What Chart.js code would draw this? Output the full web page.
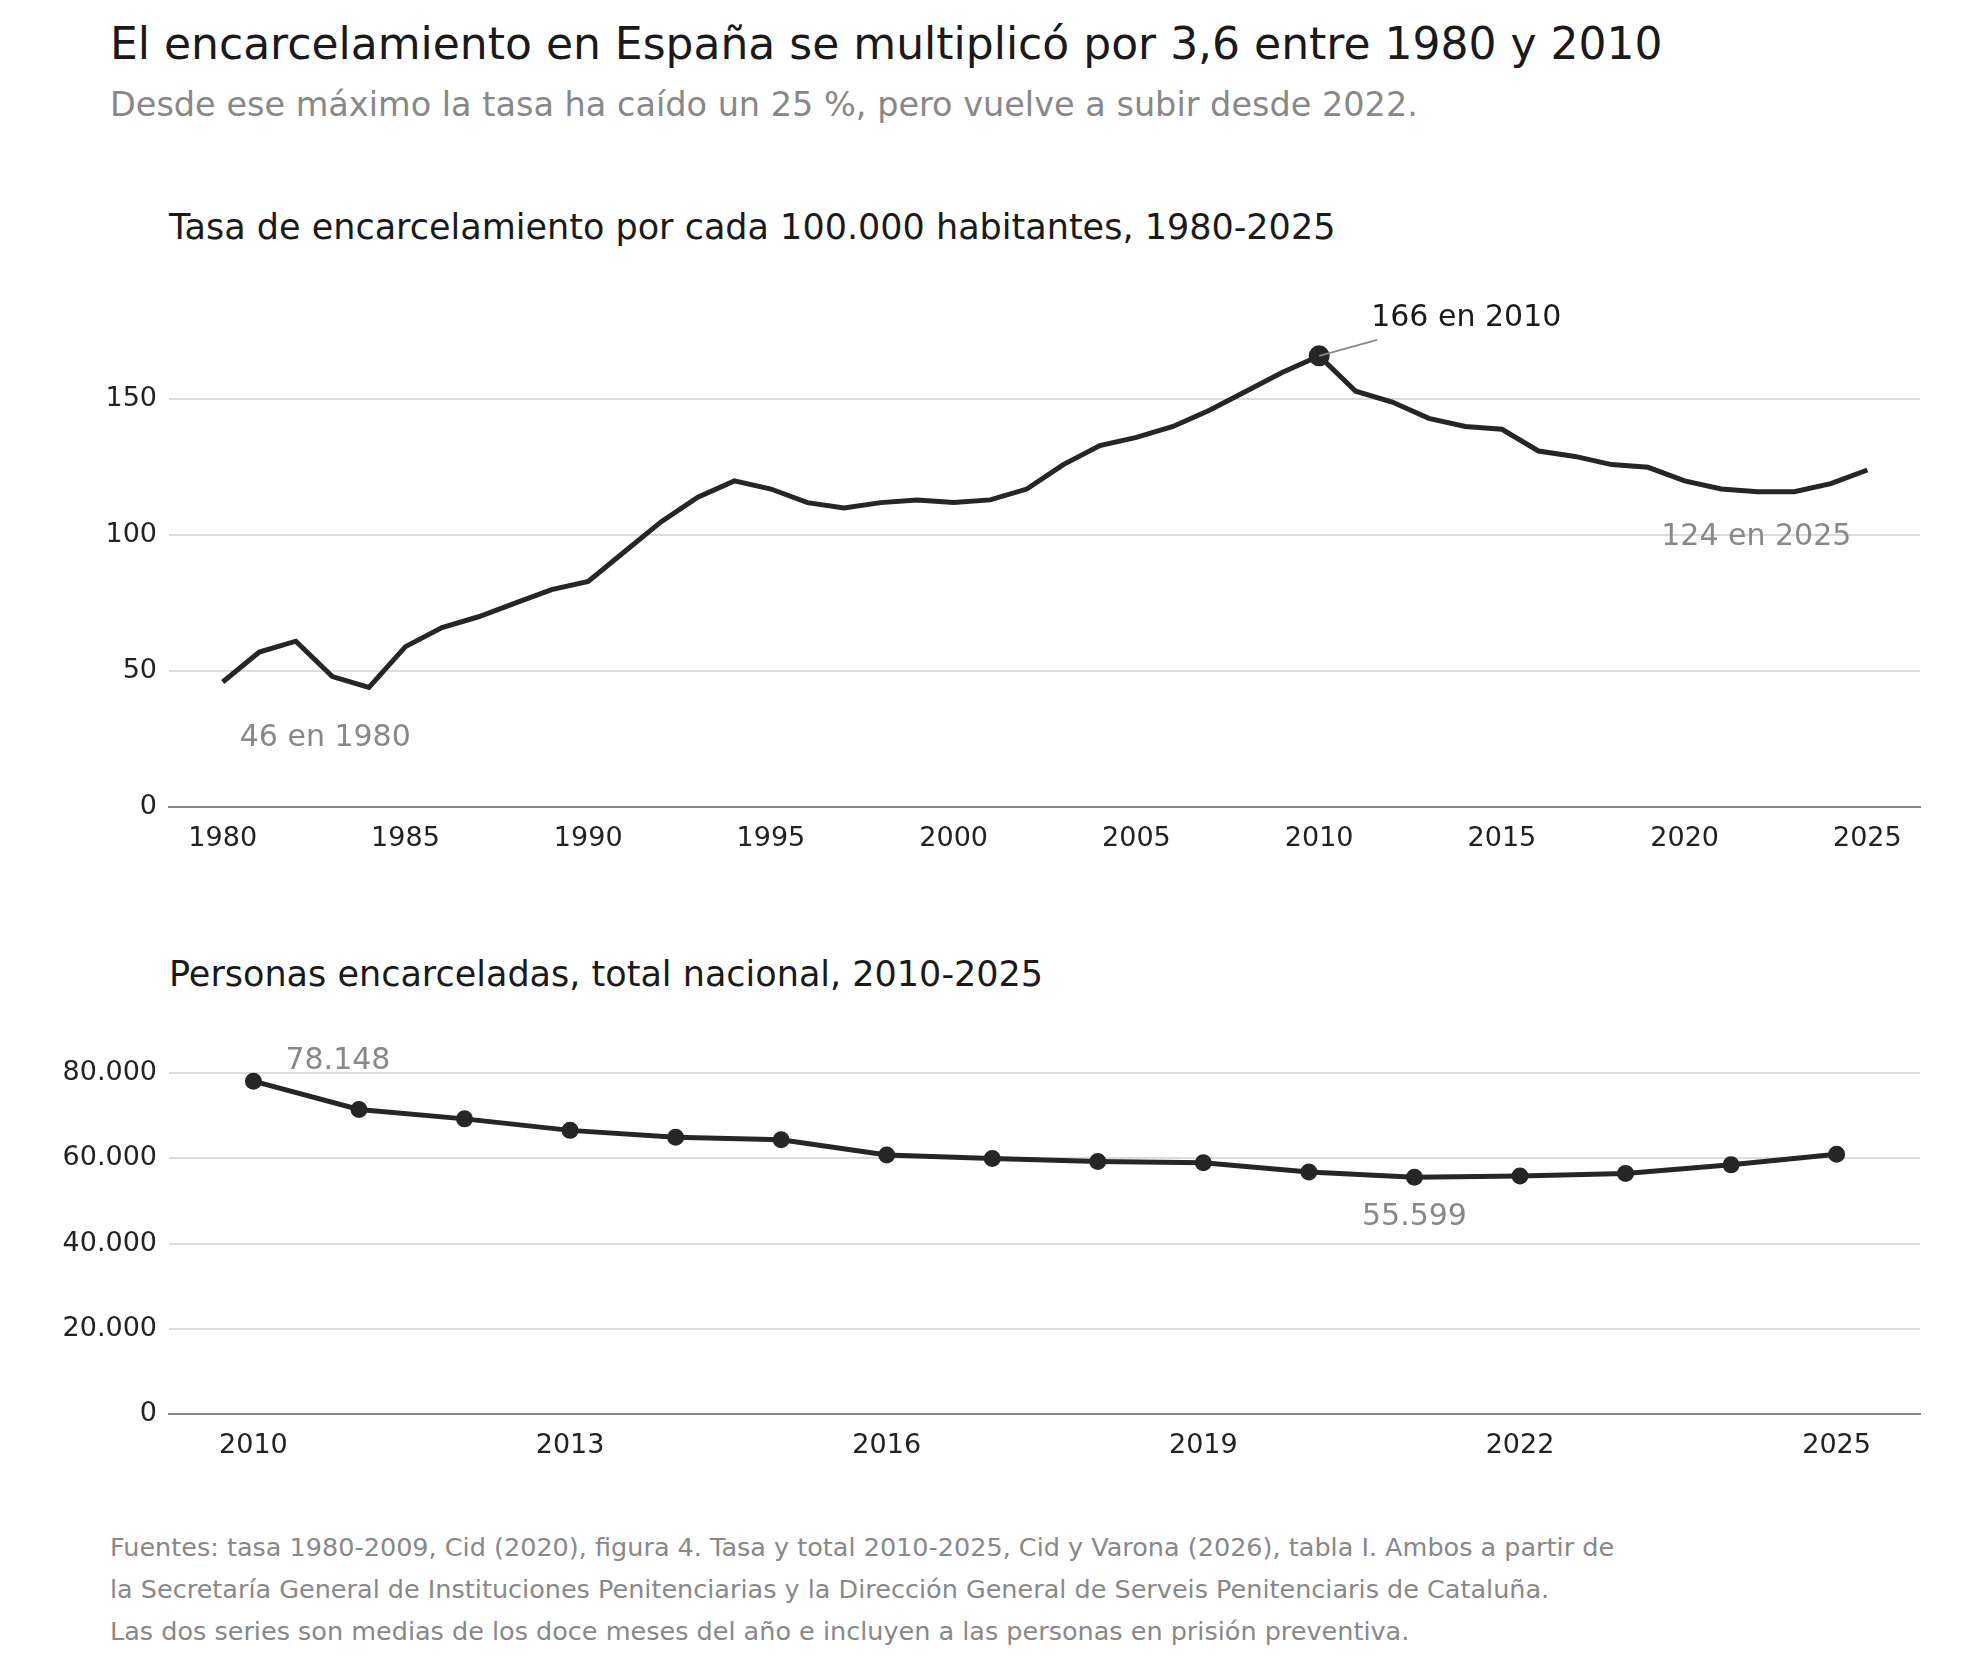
<!DOCTYPE html>
<html>
<head>
<meta charset="utf-8">
<script src="https://cdn.jsdelivr.net/npm/chart.js@4.4.1/dist/chart.umd.min.js"></script>
<style>
  body { margin: 0; width: 1980px; height: 1672px; background: #fff; font-family: "DejaVu Sans", sans-serif; position: relative; }
  .t { position: absolute; white-space: nowrap; }
  canvas { position: absolute; left: 0; }
</style>
</head>
<body>
<div class="t" style="left:110px;top:18px;font-size:44px;color:#1a1a1a">El encarcelamiento en España se multiplicó por 3,6 entre 1980 y 2010</div>
<div class="t" style="left:110px;top:85px;font-size:33.5px;color:#888">Desde ese máximo la tasa ha caído un 25 %, pero vuelve a subir desde 2022.</div>
<div class="t" style="left:169px;top:207px;font-size:35px;color:#1a1a1a">Tasa de encarcelamiento por cada 100.000 habitantes, 1980-2025</div>
<div class="t" style="left:169px;top:954px;font-size:35px;color:#1a1a1a">Personas encarceladas, total nacional, 2010-2025</div>
<div class="t" style="left:110px;top:1526px;font-size:25.5px;line-height:42px;color:#888">Fuentes: tasa 1980-2009, Cid (2020), figura 4. Tasa y total 2010-2025, Cid y Varona (2026), tabla I. Ambos a partir de<br>la Secretaría General de Instituciones Penitenciarias y la Dirección General de Serveis Penitenciaris de Cataluña.<br>Las dos series son medias de los doce meses del año e incluyen a las personas en prisión preventiva.</div>
<div style="position:absolute;left:0;top:257px;width:1980px;height:600px"><canvas id="c1"></canvas></div>
<div style="position:absolute;left:0;top:994px;width:1980px;height:480px"><canvas id="c2"></canvas></div>
<script>
const rateYears = [];
for (let y = 1980; y <= 2025; y++) rateYears.push(y);
const rateValues = [46,57,61,48,44,59,66,70,75,80,83,94,105,114,120,117,112,110,112,113,112,113,117,126,133,136,140,146,153,160,166,153,149,143,140,139,131,129,126,125,120,117,116,116,119,124];
const prisonYears = [2010,2011,2012,2013,2014,2015,2016,2017,2018,2019,2020,2021,2022,2023,2024,2025];
const prisonValues = [78148,71500,69300,66600,65000,64400,60800,60000,59300,59000,56800,55599,55900,56500,58500,61000];
const rateTicks = [0,50,100,150];
const prisonTicks = [0,20000,40000,60000,80000];
const prisonXTicks = [2010,2013,2016,2019,2022,2025];

const fmt = v => String(v).replace(/\B(?=(\d{3})+(?!\d))/g, '.');
const FONT = { family: 'DejaVu Sans', size: 27 };

function axes(xmin, xmax, xticks, ymax, yticks, xh) {
  return {
    x: {
      type: 'linear', min: xmin, max: xmax,
      afterBuildTicks: s => { s.ticks = xticks.map(v => ({ value: v })); },
      grid: { display: false },
      border: { display: true, color: '#888', width: 2 },
      ticks: { color: '#222', font: FONT, padding: 8, callback: v => String(v) },
      afterFit: s => { s.height = xh; }
    },
    y: {
      min: 0, max: ymax,
      afterBuildTicks: s => { s.ticks = yticks.map(v => ({ value: v })); },
      grid: { color: c => c.tick.value === 0 ? 'rgba(0,0,0,0)' : '#dcdcdc', lineWidth: 2, drawTicks: false },
      border: { display: false },
      ticks: { color: '#222', font: FONT, padding: 12, callback: v => fmt(v) },
      afterFit: s => { s.width = 169; }
    }
  };
}

const notes = {
  id: 'notes',
  afterDatasetsDraw(chart, args, opts) {
    const ctx = chart.ctx, x = chart.scales.x, y = chart.scales.y;
    ctx.save();
    ctx.textBaseline = 'middle';
    (opts.items || []).forEach(n => {
      const px = x.getPixelForValue(n.x), py = y.getPixelForValue(n.y);
      if (n.line) {
        ctx.strokeStyle = '#888'; ctx.lineWidth = 2;
        ctx.beginPath(); ctx.moveTo(px, py);
        ctx.lineTo(px + n.line[0], py + n.line[1]); ctx.stroke();
      }
      ctx.font = '30px "DejaVu Sans"';
      ctx.fillStyle = n.color;
      ctx.textAlign = n.align || 'left';
      ctx.fillText(n.text, px + n.dx, py + n.dy);
    });
    ctx.restore();
  }
};

const lineStyle = { borderColor: '#262626', backgroundColor: '#262626', borderWidth: 5, tension: 0, pointHoverRadius: 0 };

new Chart(document.getElementById('c1'), {
  type: 'line',
  data: { datasets: [Object.assign({
    data: rateYears.map((y, i) => ({ x: y, y: rateValues[i] })),
    pointRadius: rateYears.map(y => y === 2010 ? 8 : 0)
  }, lineStyle)] },
  options: {
    responsive: true, maintainAspectRatio: false, animation: false,
    layout: { padding: { top: 0, right: 60, left: 0, bottom: 0 } },
    scales: axes(1978.53, 2026.44, rateYears.filter(y => y % 5 === 0), 192, rateTicks, 50),
    plugins: {
      legend: { display: false }, tooltip: { enabled: false },
      notes: { items: [
        { x: 2010, y: 166, text: '166 en 2010', color: '#1a1a1a', dx: 52, dy: -38, line: [58, -16] },
        { x: 1980, y: 46, text: '46 en 1980', color: '#888', dx: 17, dy: 56 },
        { x: 2025, y: 124, text: '124 en 2025', color: '#888', dx: -16, dy: 67, align: 'right' }
      ] }
    }
  },
  plugins: [notes]
});

new Chart(document.getElementById('c2'), {
  type: 'line',
  data: { datasets: [Object.assign({
    data: prisonYears.map((y, i) => ({ x: y, y: prisonValues[i] })),
    pointRadius: 6
  }, lineStyle)] },
  options: {
    responsive: true, maintainAspectRatio: false, animation: false,
    layout: { padding: { top: 0, right: 60, left: 0, bottom: 0 } },
    scales: axes(2009.2, 2025.79, prisonXTicks, 92000, prisonTicks, 60),
    plugins: {
      legend: { display: false }, tooltip: { enabled: false },
      notes: { items: [
        { x: 2010, y: 78148, text: '78.148', color: '#888', dx: 32, dy: -20 },
        { x: 2021, y: 55599, text: '55.599', color: '#888', dx: 0, dy: 40, align: 'center' }
      ] }
    }
  },
  plugins: [notes]
});
</script>
</body>
</html>
